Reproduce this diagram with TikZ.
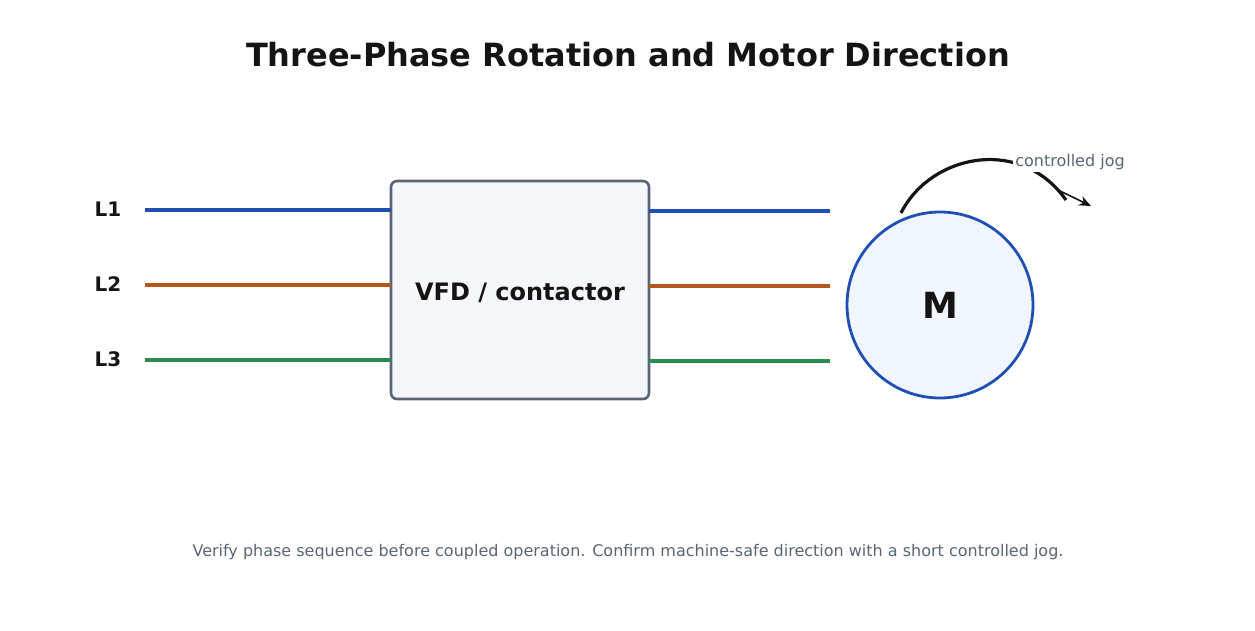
\documentclass[tikz,border=0pt]{standalone}
\usepackage{fontspec}
\setmainfont{DejaVu Sans}
\usetikzlibrary{arrows.meta}
\definecolor{pb}{HTML}{1F4FB4}
\definecolor{po}{HTML}{B5561A}
\definecolor{pg}{HTML}{2A8A4F}
\definecolor{gr}{HTML}{5A6475}
\definecolor{dk}{HTML}{141414}
\definecolor{bf}{HTML}{F5F7FA}
\definecolor{cf}{HTML}{F1F5FE}
\begin{document}
\begin{tikzpicture}[x=0.5pt,y=-0.5pt,
  lab/.style={font=\fontsize{10}{11}\selectfont\bfseries,text=dk},
  wire/.style={line width=2.2pt}]
\useasboundingbox (0,0) rectangle (1255,631);
\node[font=\fontsize{16}{18}\selectfont\bfseries,text=dk] (t) at (628,55) {Three-Phase Rotation and Motor Direction};
\node[draw=gr,fill=bf,line width=1.3pt,rounded corners=3pt,minimum width=129pt,minimum height=109pt] (vfd) at (520,290) {};
\node[font=\fontsize{12}{14}\selectfont\bfseries,text=dk] (vl) at (520,293) {VFD / contactor};
\node[lab] (l1) at (108,209) {L1};
\node[lab] (l2) at (108,284) {L2};
\node[lab] (l3) at (108,359) {L3};
\coordinate (a1) at (145,210); \coordinate (b1) at (391,210);
\coordinate (a2) at (145,285); \coordinate (b2) at (391,285);
\coordinate (a3) at (145,360); \coordinate (b3) at (391,360);
\coordinate (c1) at (649,211); \coordinate (d1) at (830,211);
\coordinate (c2) at (649,286); \coordinate (d2) at (830,286);
\coordinate (c3) at (649,361); \coordinate (d3) at (830,361);
\draw[wire,pb] (a1)--(b1); \draw[wire,po] (a2)--(b2); \draw[wire,pg] (a3)--(b3);
\draw[line width=1.7pt,pb] (c1)--(d1); \draw[line width=1.7pt,po] (c2)--(d2); \draw[line width=1.7pt,pg] (c3)--(d3);
\node[circle,draw=pb,fill=cf,line width=1.4pt,minimum size=93pt,inner sep=0pt,font=\fontsize{18}{20}\selectfont\bfseries,text=dk] (m) at (940,305) {M};
\coordinate (s) at (901,213); \coordinate (e) at (1066,200);
\draw[line width=1.6pt,dk] (s) .. controls (930,155) and (1020,135) .. (e);
\node[fill=white,inner sep=1pt,font=\fontsize{8}{9}\selectfont,text=gr] (jog) at (1070,162) {controlled jog};
\coordinate (p) at (1058,190); \coordinate (q) at (1091,206);
\draw[line width=0.8pt,dk,-{Stealth[length=6pt,width=5pt]}] (p)--(q);
\node[font=\fontsize{8}{9}\selectfont,text=gr] (f) at (628,552) {Verify phase sequence before coupled operation. Confirm machine-safe direction with a short controlled jog.};
\end{tikzpicture}
\end{document}
